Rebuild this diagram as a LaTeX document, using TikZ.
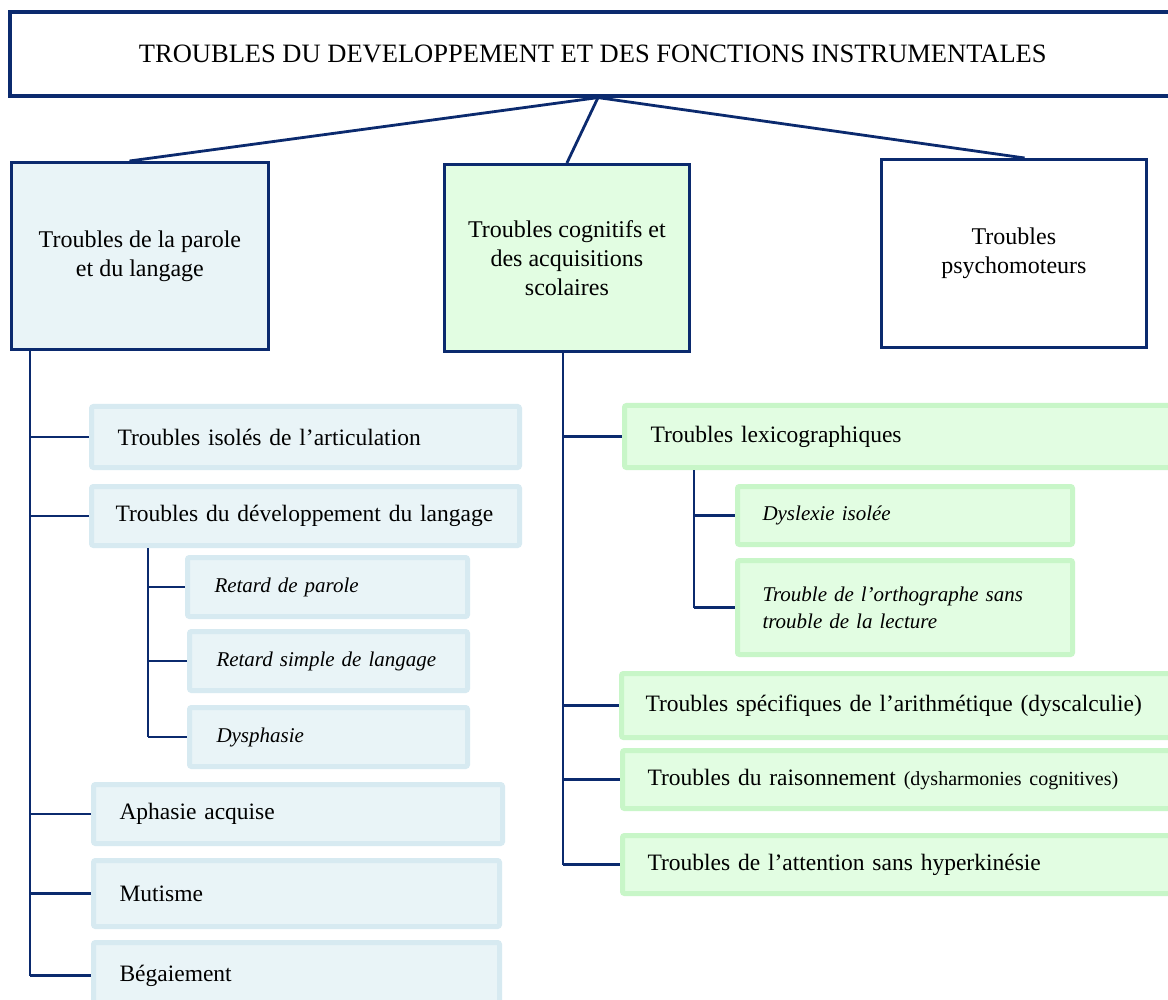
\documentclass[tikz,border=0pt]{standalone}
\usepackage{fontspec}
\setmainfont{Liberation Serif}
\usetikzlibrary{calc}
\definecolor{navy}{HTML}{0B2A6E}
\definecolor{bluefill}{HTML}{E9F4F7}
\definecolor{blueedge}{HTML}{D7EAF1}
\definecolor{greenfill}{HTML}{E2FDE2}
\definecolor{greenedge}{HTML}{C8F6C8}
\begin{document}
\begin{tikzpicture}[x=1pt,y=-1pt,
  conn/.style={draw=navy,line width=2.8pt},
  mainfont/.style={font=\fontsize{23.5}{29}\selectfont},
  topfont/.style={font=\fontsize{24}{29}\selectfont},
  subfont/.style={font=\fontsize{21}{27}\selectfont\itshape},
  topbox/.style={draw=navy,line width=2.8pt,align=center,inner sep=0pt,anchor=north west,topfont},
  bchild/.style={draw=blueedge,fill=bluefill,line width=5pt,rounded corners=2pt,inner ysep=0pt,inner xsep=26pt,align=left,anchor=north west,mainfont},
  bsub/.style={bchild,subfont},
  gchild/.style={draw=greenedge,fill=greenfill,line width=5pt,rounded corners=2pt,inner ysep=0pt,inner xsep=26pt,align=left,anchor=north west,mainfont},
  gsub/.style={gchild,subfont}
]
\useasboundingbox (0,0) rectangle (1168,1000);
\clip (0,0) rectangle (1168,1000);
\fill[white] (0,0) rectangle (1168,1000);

% title
\node[topbox,line width=3.6pt,minimum width=1166pt,minimum height=84pt,font=\fontsize{26.5}{30}\selectfont] (title) at (8,10)
  {TROUBLES DU DEVELOPPEMENT ET DES FONCTIONS INSTRUMENTALES};

% level 1
\node[topbox,fill=bluefill,minimum width=257pt,minimum height=187pt] (lb) at (10,161)
  {Troubles de la parole\\et du langage};
\node[topbox,fill=greenfill,minimum width=245pt,minimum height=187pt] (cb) at (443,163)
  {Troubles cognitifs et\\des acquisitions\\scolaires};
\node[topbox,fill=white,minimum width=265pt,minimum height=188pt] (rb) at (880,158)
  {Troubles\\psychomoteurs};

% left children
\node[bchild,text width=376pt,minimum height=61pt] (c1) at (89,404) {Troubles isolés de l’articulation};
\node[bchild,inner xsep=24pt,text width=380pt,minimum height=59pt] (c2) at (89,484) {\mbox{Troubles du développement du langage}};
\node[bsub,inner xsep=27pt,text width=226pt,minimum height=59pt] (d1) at (185,555) {Retard de parole};
\node[bsub,inner xsep=27pt,text width=224pt,minimum height=59pt] (d2) at (187,629) {Retard simple de langage};
\node[bsub,inner xsep=27pt,text width=224pt,minimum height=59pt] (d3) at (187,705) {Dysphasie};
\node[bchild,text width=357pt,minimum height=59pt] (c3) at (91,782) {Aphasie acquise};
\node[bchild,text width=354pt,minimum height=66pt] (c4) at (91,858) {Mutisme};
\node[bchild,text width=354pt,minimum height=66pt] (c5) at (91,940) {Bégaiement};

% center children
\node[gchild,text width=508pt,minimum height=62pt] (g1) at (622,403) {Troubles lexicographiques};
\node[gsub,inner xsep=25pt,text width=285pt,minimum height=58pt] (gd1) at (735,484) {Dyslexie isolée};
\node[gsub,inner xsep=25pt,text width=285pt,minimum height=94pt] (gd2) at (735,558) {Trouble de l’orthographe sans\\trouble de la lecture};
\node[gchild,inner xsep=24pt,text width=512pt,minimum height=64pt] (g2) at (619,671) {Troubles spécifiques de l’arithmétique (dyscalculie)};
\node[gchild,inner xsep=25pt,text width=510pt,minimum height=58pt] (g3) at (620,748) {Troubles du raisonnement {\fontsize{20}{24}\selectfont(dysharmonies cognitives)}};
\node[gchild,inner xsep=25pt,text width=510pt,minimum height=58pt] (g4) at (620,833) {Troubles de l’attention sans hyperkinésie};

% title connectors
\coordinate (tb) at ($(title.south west)+(590,0)$);
\draw[conn] (tb) -- ($(lb.north west)!0.46!(lb.north east)$);
\draw[conn] (tb) -- ($(cb.north west)!0.5!(cb.north east)$);
\draw[conn] (tb) -- ($(rb.north west)!0.54!(rb.north east)$);

% left trunk
\coordinate (lt) at ($(lb.south west)+(20,0)$);
\draw[conn] (lt) -- (lt |- c5.west);
\foreach \c in {c1,c2,c3,c4,c5} \draw[conn] (lt |- \c.west) -- (\c.west);
\coordinate (st) at ($(c2.south west)+(59,0)$);
\draw[conn] (st) -- (st |- d3.west);
\foreach \c in {d1,d2,d3} \draw[conn] (st |- \c.west) -- (\c.west);

% center trunk
\coordinate (ct) at ($(cb.south west)+(120,0)$);
\draw[conn] (ct) -- (ct |- g4.west);
\foreach \c in {g1,g2,g3,g4} \draw[conn] (ct |- \c.west) -- (\c.west);
\coordinate (gt) at ($(g1.south west)+(72,0)$);
\draw[conn] (gt) -- (gt |- gd2.west);
\foreach \c in {gd1,gd2} \draw[conn] (gt |- \c.west) -- (\c.west);
\end{tikzpicture}
\end{document}
